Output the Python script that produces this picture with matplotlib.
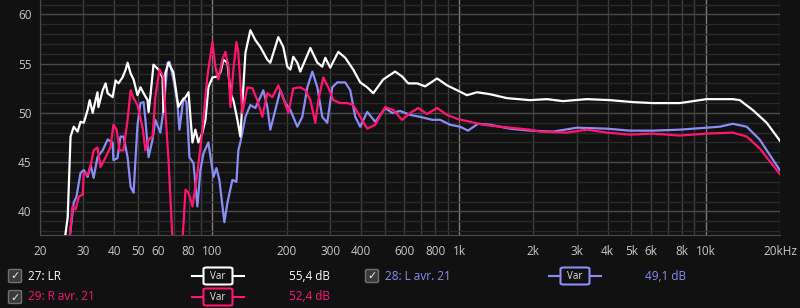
import matplotlib
matplotlib.use("Agg")
import matplotlib.pyplot as plt
from matplotlib.patches import FancyBboxPatch
from matplotlib.ticker import FixedLocator, NullFormatter

# ---------------- data ----------------
lr_freq = [25.0, 25.9, 26.6, 27.4, 28.4, 29.2, 30.1, 31.2, 31.8, 32.7, 33.6, 34.2, 34.5, 35.9, 36.9,
           37.6, 39.4, 40.5, 41.6, 43.2, 44.5, 45.3, 46.6, 47.9, 49.7, 51.1, 52.6, 54.6, 55.1, 56.1,
           57.7, 60.4, 62.8, 63.3, 64.5, 66.4, 69.5, 72.8, 75.6, 77.8, 80.0, 83.0, 85.3, 87.7, 91.1,
           93.7, 96.3, 100, 104.8, 107.7, 110.8, 115.1, 118.3, 121.6, 126.3, 129.8, 136.1, 142.5,
           149.3, 156.4, 167.0, 171.7, 185.0, 193.8, 201.2, 207.0, 212.8, 220.9, 227.1, 249.5, 266.3,
           278.9, 286.8, 300.4, 323.8, 345.5, 372.4, 397.4, 424.3, 448.8, 492.5, 550.4, 587.7, 622,
           676.7, 728.4, 814.7, 894, 982, 1077, 1182, 1335, 1564, 1937, 2271, 2638, 3299, 4086, 5059,
           6095, 7845, 10090, 12850, 13740, 15500, 17660, 19950]
lr_db = [36.5, 39.4, 47.6, 48.6, 48.1, 49.1, 49.0, 50.3, 51.3, 50.0, 51.3, 52.1, 50.6, 52.3, 53.0,
         52.0, 51.6, 53.3, 53.0, 53.6, 54.4, 55.1, 54.0, 53.4, 51.8, 52.6, 52.0, 51.3, 50.1, 51.8,
         54.9, 54.4, 53.6, 50.1, 54.1, 55.1, 54.1, 50.6, 51.3, 51.6, 52.1, 47.0, 48.3, 47.0, 48.0,
         49.3, 52.6, 53.6, 53.7, 54.1, 55.4, 55.1, 52.0, 51.3, 49.3, 47.6, 56.1, 58.4,
         57.4, 56.7, 55.4, 55.1, 57.7, 56.7, 54.7, 54.4, 55.7, 55.1, 54.2, 56.6, 55.1,
         54.7, 55.6, 54.6, 56.2, 55.6, 54.4, 53.1, 52.6, 52.0, 53.4, 54.2, 53.7, 53.0,
         53.0, 52.7, 53.5, 52.8, 52.3, 51.8, 52.1, 51.9, 51.5, 51.3, 51.4, 51.2, 51.4, 51.3, 51.1,
         51.0, 51.0, 51.4, 51.4, 51.3, 50.3, 49.0, 47.2]

l_freq = [26.3, 27.4, 28.1, 29.2, 30.1, 31.2, 32.1, 33.0, 34.2, 35.9, 37.6, 39.4, 39.7, 41.2, 42.4,
          43.6, 45.3, 46.6, 47.9, 49.7, 51.1, 52.6, 53.5, 55.1, 57.2, 58.7, 61.5, 63.3, 65.8, 67.0,
          69.5, 72.1, 73.5, 76.3, 78.5, 80.7, 83.8, 86.9, 89.4, 92.0, 96.3, 101, 103.8, 106.7, 111.8,
          115.1, 120.5, 125.1, 127.4, 129.8, 136.1, 142.5, 149.3, 156.4, 160.8, 167.0, 171.7, 179.9,
          188.5, 197.5, 207.0, 220.9, 231.4, 242.6, 254.2, 266.3, 278.9, 292.1, 306.1, 320.8, 345.5,
          362.1, 379.4, 397.4, 424.3, 457.3, 501.8, 535.3, 576.8, 633.7, 695.5, 777.4, 838, 919,
          1010, 1087, 1193, 1335, 1608, 1937, 2403, 3004, 3974, 4921, 6095, 7845, 10090, 11400,
          12850, 14660, 16540, 19950]
l_db = [37.0, 40.9, 41.5, 43.9, 44.2, 43.5, 44.7, 43.4, 45.5, 46.2, 47.3, 47.0, 45.2, 45.4, 47.6,
        47.6, 45.5, 42.5, 41.9, 48.8, 51.0, 51.1, 49.3, 45.5, 47.3, 49.3, 48.0, 50.3, 55.1, 55.2,
        53.4, 51.0, 48.3, 51.5, 51.1, 45.5, 44.9, 40.5, 44.2, 45.9, 47.0, 43.5, 44.4, 43.2, 38.9,
        40.9, 43.2, 43.0, 46.2, 47.0, 49.6, 50.8, 50.5, 51.6, 52.3, 50.6, 48.3, 50.3,
        52.3, 51.0, 50.3, 48.6, 49.6, 52.6, 54.2, 52.6, 49.6, 49.0, 52.6, 53.1, 53.1,
        52.3, 49.6, 48.6, 50.1, 49.1, 50.5, 50.0, 50.2, 49.8, 49.6, 49.3, 49.3, 48.8,
        48.6, 48.2, 48.9, 48.8, 48.4, 48.2, 48.1, 48.5, 48.4, 48.2, 48.2, 48.3, 48.5, 48.6,
        48.9, 48.6, 47.3, 44.2]

r_freq = [26.3, 27.1, 27.9, 28.7, 29.8, 30.1, 31.2, 32.1, 33.0, 34.2, 35.2, 36.9, 38.6, 39.7, 40.9,
          42.0, 43.6, 45.3, 46.6, 47.9, 49.7, 52.1, 53.5, 55.1, 57.2, 58.7, 61.0, 63.3, 64.5, 66.4,
          68.9, 72.0, 75.6, 77.8, 80.0, 83.0, 86.9, 91.1, 95.4, 100, 102.8, 105.7, 109.7, 112.9,
          116.1, 118.3, 121.6, 125.1, 127.4, 132.2, 138.6, 145.2, 152.1, 159.4, 167.0, 175.0, 185.0,
          193.8, 203.1, 212.8, 227.1, 238.2, 249.5, 261.4, 268.8, 281.5, 294.8, 308.9, 329.9, 352.0,
          372.4, 397.4, 424.3, 457.3, 501.8, 540.3, 587.7, 633.7, 682.7, 741.8, 814.7, 894, 982,
          1108, 1250, 1466, 1937, 2129, 2738, 3299, 3974, 4921, 6095, 7845, 10090, 12850, 14660,
          16540, 19950]
r_db = [37.0, 40.5, 40.2, 41.5, 41.7, 43.9, 43.7, 44.7, 46.2, 46.5, 44.5, 45.5, 46.5, 48.8, 48.3,
        46.2, 46.2, 49.3, 52.3, 51.5, 50.8, 48.5, 46.2, 47.3, 47.6, 51.6, 54.4, 53.7, 50.0, 45.2,
        37.0, 33.5, 37.0, 42.2, 41.9, 40.5, 43.9, 48.3, 53.7, 57.2, 54.7, 53.4, 55.4, 56.2,
        54.7, 50.6, 54.4, 57.2, 56.1, 50.0, 52.6, 52.5, 51.3, 49.6, 52.0, 51.6, 52.8,
        51.5, 50.0, 52.5, 52.6, 52.3, 51.3, 49.0, 51.3, 53.6, 52.6, 51.3, 51.0, 51.0,
        50.8, 49.6, 48.4, 48.8, 50.6, 50.3, 49.3, 50.0, 50.5, 49.9, 50.5, 49.8, 49.4,
        49.1, 48.8, 48.6, 48.3, 48.1, 48.0, 48.3, 48.0, 47.8, 47.9, 47.7, 47.9, 48.0, 47.6,
        46.4, 43.8]

x_ticks = [20, 30, 40, 50, 60, 80, 100, 200, 300, 400, 600, 800, 1000, 2000, 3000, 4000, 5000,
           6000, 8000, 10000, 20000]
x_labels = ["20", "30", "40", "50", "60", "80", "100", "200", "300", "400", "600", "800", "1k",
            "2k", "3k", "4k", "5k", "6k", "8k", "10k", "20kHz"]
y_ticks = [40, 45, 50, 55, 60]

legend_names = ["27: LR", "29: R avr. 21", "28: L avr. 21"]
legend_values = ["55,4 dB", "52,4 dB", "49,1 dB"]

# ---------------- style ----------------
BG = "#111111"
WHITE = "#ffffff"
PINK = "#ff1470"
BLUE = "#8c8cf5"
TXT = "#c8c8c8"

plt.rcParams["font.family"] = ["Open Sans", "DejaVu Sans"]

W, H = 800, 308
fig = plt.figure(figsize=(W / 100, H / 100), dpi=100, facecolor=BG)
x0, x1, ytop, ybot = 40, 780, 0, 235
ax = fig.add_axes([x0 / W, 1 - ybot / H, (x1 - x0) / W, (ybot - ytop) / H])
ax.set_facecolor(BG)
ax.set_xscale("log")
ax.set_xlim(20, 20000)
ax.set_ylim(37.6, 61.47)

# grid
minor_x = []
for dec in (10, 100, 1000, 10000):
    for m in range(1, 10):
        v = dec * m
        if 20 <= v <= 20000 and v not in (100, 1000, 10000):
            minor_x.append(v)
for v in minor_x:
    ax.axvline(v, color="#3c3c3c", lw=1.0, zorder=1)
for v in (100, 1000, 10000):
    ax.axvline(v, color="#7a7a7a", lw=1.0, zorder=1)
for d in range(38, 62):
    if d % 5 == 0:
        ax.axhline(d, color="#4a4a4a", lw=1.0, zorder=1)
    else:
        ax.axhline(d, color="#2a2a2a", lw=1.0, zorder=1)

ax.plot(l_freq, l_db, color=BLUE, lw=1.6, zorder=3, solid_joinstyle="round")
ax.plot(lr_freq, lr_db, color=WHITE, lw=1.6, zorder=4, solid_joinstyle="round")
ax.plot(r_freq, r_db, color=PINK, lw=1.6, zorder=5, solid_joinstyle="round")

ax.xaxis.set_major_locator(FixedLocator(x_ticks))
ax.set_xticklabels(x_labels)
ax.xaxis.set_minor_formatter(NullFormatter())
ax.xaxis.set_minor_locator(FixedLocator([]))
ax.set_yticks(y_ticks)
ax.tick_params(axis="both", colors=TXT, labelsize=8.5, length=0, pad=6)
ax.tick_params(axis="x", pad=7)
for s in ("top", "right"):
    ax.spines[s].set_visible(False)
for s in ("left", "bottom"):
    ax.spines[s].set_color("#4a4a4a")

# ---------------- legend ----------------
def fx(px):
    return px / W

def fy(py):
    return 1 - py / H

def checkbox(px, py):
    size = 13
    box = FancyBboxPatch((fx(px - size / 2), fy(py + size / 2)), size / W, size / H,
                         boxstyle="round,pad=0,rounding_size=0.003",
                         transform=fig.transFigure, facecolor="#3a3a3a",
                         edgecolor="#707070", lw=1.0, zorder=5)
    fig.add_artist(box)
    fig.text(fx(px), fy(py + 0.5), "\u2713", color="#e8e8e8", fontsize=8, ha="center", va="center",
             family=["DejaVu Sans"], fontweight="bold", zorder=6)

def var_box(cx, py, color):
    fig.add_artist(plt.Line2D([fx(cx - 26), fx(cx + 26)], [fy(py), fy(py)], color=color, lw=1.5,
                              transform=fig.transFigure, zorder=4))
    box = FancyBboxPatch((fx(cx - 14.5), fy(py + 8.5)), 29 / W, 17 / H,
                         boxstyle="round,pad=0,rounding_size=0.004",
                         transform=fig.transFigure, facecolor=BG, edgecolor=color,
                         lw=1.5, zorder=5)
    fig.add_artist(box)
    fig.text(fx(cx), fy(py + 0.5), "Var", color="#e8e8e8", fontsize=7, ha="center",
             va="center", zorder=6)

rows = [(276, 15, 28, 218, 289, WHITE), (297, 15, 28, 218, 289, PINK), (276, 372, 385, 575, 645, BLUE)]
for (py, cbx, tx, vx, valx, col), name, val in zip(rows, legend_names, legend_values):
    checkbox(cbx, py)
    fig.text(fx(tx), fy(py), name, color=col, fontsize=8.5, ha="left", va="center")
    var_box(vx, py, col)
    fig.text(fx(valx), fy(py), val, color=col, fontsize=8.5, ha="left", va="center")

fig.savefig("out.png", dpi=100, facecolor=BG)
